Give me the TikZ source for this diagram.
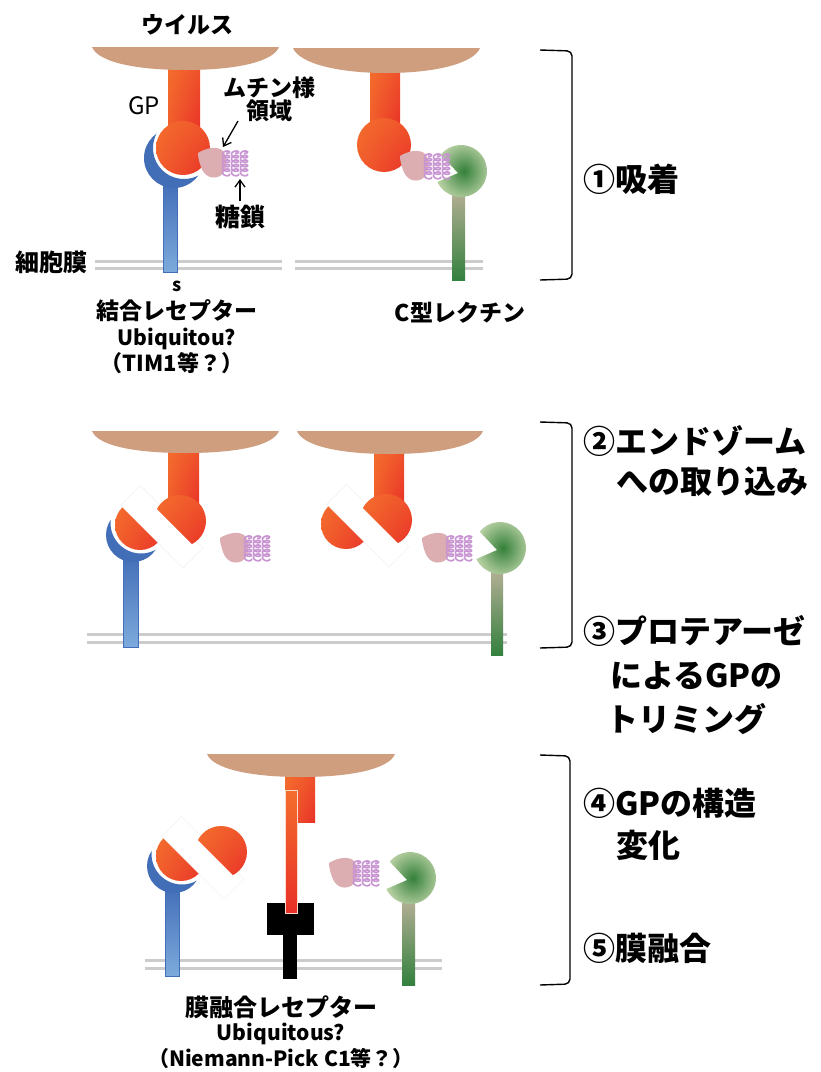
\documentclass[tikz,border=0pt]{standalone}
\usepackage{fontspec}
\setmainfont{Noto Sans CJK JP}
\usetikzlibrary{arrows.meta, shadings}

\definecolor{virus}{RGB}{207,158,126}
\definecolor{gpO}{RGB}{244,110,45}
\definecolor{gpR}{RGB}{232,48,40}
\definecolor{cupblue}{RGB}{66,110,184}
\definecolor{bstemB}{RGB}{125,170,220}
\definecolor{lecD}{RGB}{52,128,58}
\definecolor{lecL}{RGB}{180,206,160}
\definecolor{lstemT}{RGB}{182,176,150}
\definecolor{lstemB}{RGB}{52,128,62}
\definecolor{mucinpink}{RGB}{221,174,177}
\definecolor{glyc}{RGB}{200,148,210}
\definecolor{membgray}{RGB}{204,204,204}

\tikzset{
  gpgrad/.style={upper left=gpO, upper right=gpO!60!gpR, lower left=gpO!75!gpR, lower right=gpR},
  memb/.style={draw=membgray, line width=3pt},
  brk/.style={draw=black, line width=1.4pt, rounded corners=5pt},
  arr/.style={-{Straight Barb[length=7pt,width=10pt]}, line width=1.3pt},
  glycan/.style={draw=glyc, line width=1.6pt},
  lbl/.style={inner sep=0pt, font=\bfseries\fontsize{23}{26}\selectfont},
  latin/.style={inner sep=0pt, font=\bfseries\fontsize{21}{24}\selectfont},
  steplbl/.style={inner sep=0pt, anchor=west, font=\bfseries\fontsize{32}{36}\selectfont},
}

% virus envelope: left, right, top, depth
\newcommand\drawVirus[4]{%
  \fill[virus] (#1,#3) -- (#2,#3)
    .. controls ({#2-6},{#3+15}) and ({(#1+#2)/2+50},{#3+#4}) .. ({(#1+#2)/2},{#3+#4})
    .. controls ({(#1+#2)/2-50},{#3+#4}) and ({#1+6},{#3+15}) .. cycle;}

% mucin-like domain with its looped sugar chains, placed by its top-left corner
\newcommand\drawMucin[2]{%
  \begin{scope}[shift={(#1,#2)}]
    \fill[mucinpink] (0,6) .. controls (8,1) and (18,-1) .. (24,3)
      .. controls (30,8) and (30,24) .. (22,29)
      .. controls (14,33) and (6,29) .. (3,20)
      .. controls (1,14) and (0,10) .. cycle;
    \foreach \gx in {28,37,46}
      \draw[glycan] plot[smooth, samples=60, domain=0:24]
        ({\gx + 3.6*sin(\x*80)}, {4 + \x + 2.2*cos(\x*80)});
  \end{scope}}

% C-type lectin head: centre x, centre y, radius
\newcommand\drawPac[3]{%
  \begin{scope}[shift={(#1,#2)}]
    \shade[inner color=lecD, outer color=lecL] (-3,2) -- (219:#3)
      arc[start angle=219, end angle=515, radius=#3] -- cycle;
  \end{scope}}

% receptor cup: cup centre x,y, radius, cut centre x,y, cut radius
\newcommand\drawCup[6]{%
  \begin{scope}
    \clip (#1,#2) circle (#3);
    \fill[cupblue, even odd rule] ({#1-40},{#2-40}) rectangle ({#1+40},{#2+40}) (#4,#5) circle (#6);
  \end{scope}}

% white band cutting the GP head
\newcommand\drawBand[2]{%
  \begin{scope}[shift={(#1,#2)}]
    \filldraw[fill=white, draw=black!5, line width=0.6pt]
      (-59.5,-15.5) -- (-39.5,-35.5) -- (23,27) -- (3,47) -- cycle;
  \end{scope}}

% the two halves of the trimmed GP head
\newcommand\drawHalves[2]{%
  \begin{scope}[shift={(#1,#2)}]
    \begin{scope}
      \clip (-40,-29) -- (40,51) -- (80,11) -- (0,-69) -- cycle;
      \shade[gpgrad] (0,0) circle (26);
    \end{scope}
    \begin{scope}
      \clip (-80,-36) -- (0,44) -- (-40,84) -- (-120,4) -- cycle;
      \shade[gpgrad] (-40,4) circle (25);
    \end{scope}
  \end{scope}}

\begin{document}
\begin{tikzpicture}[x=1pt,y=-1pt]
\useasboundingbox (0,0) rectangle (821,1072);
\fill[white] (0,0) rectangle (821,1072);

%% ---------------- step 1: attachment ----------------
% membranes
\draw[memb] (95,261) -- (282,261) (95,268) -- (282,268);
\draw[memb] (295,261) -- (483,261) (295,268) -- (483,268);

% left: binding receptor
\shadedraw[top color=cupblue, bottom color=bstemB, draw=cupblue, line width=0.8pt] (163,182) rectangle (177,272);
\drawCup{174}{158}{30}{184}{148}{31}
\shade[gpgrad] (168,62) rectangle (200,132);
\drawVirus{92}{279}{47}{23}
\shade[gpgrad] (183,148) circle (27);
\drawMucin{198}{147}

% right: C-type lectin
\shade[top color=lstemT, bottom color=lstemB] (452,190) rectangle (465,280);
\drawPac{461}{171}{26}
\shade[gpgrad] (370,64) rectangle (400,128);
\drawVirus{293}{480}{48}{25}
\shade[gpgrad] (384,145) circle (27);
\drawMucin{400}{150}

% annotations
\node[lbl] (virusLbl) at (187,25) {ウイルス};
\node[inner sep=0pt, font=\fontsize{24}{27}\selectfont] (gpLbl) at (144,106) {GP};
\node[lbl] (mucinLbl) at (269,88) {ムチン様};
\node[lbl] (mucinLbl2) at (269,111) {領域};
\node[lbl, font=\bfseries\fontsize{25}{28}\selectfont] (sugarLbl) at (240,217) {糖鎖};
\node[lbl, font=\bfseries\fontsize{24}{27}\selectfont] (membLbl) at (52,262) {細胞膜};
\coordinate (mucArrTail) at (238,121);
\coordinate (mucArrHead) at (223,147);
\coordinate (sugArrTail) at (240,201);
\coordinate (sugArrHead) at (240,179);
\draw[arr] (mucArrTail) -- (mucArrHead);
\draw[arr] (sugArrTail) -- (sugArrHead);

\node[inner sep=0pt, font=\bfseries\fontsize{18}{20}\selectfont] (sLbl) at (177,286) {s};
\node[lbl] (bindLbl) at (177,311) {結合レセプター};
\node[latin] (ubiLbl) at (177,339) {Ubiquitou?};
\node[lbl, font=\bfseries\fontsize{22}{25}\selectfont] (timLbl) at (172,363) {（TIM1等？）};
\node[lbl] (lectinLbl) at (460,313) {C型レクチン};

%% ---------------- steps 2-3: uptake and trimming ----------------
\draw[memb] (87,634) -- (507,634) (87,642) -- (507,642);

% left
\shadedraw[top color=cupblue, bottom color=bstemB, draw=cupblue, line width=0.8pt] (123,555) rectangle (138,647);
\drawCup{133}{535}{27}{141}{523}{30.5}
\drawBand{180}{521}
\shade[gpgrad] (168,446) rectangle (199,508);
\drawVirus{92}{279}{431}{22}
\drawHalves{180}{521}
\drawMucin{220}{532}

% right
\shade[top color=lstemT, bottom color=lstemB] (491,568) rectangle (503,655);
\drawPac{500}{548}{26}
\drawBand{386}{520}
\shade[gpgrad] (374,448) rectangle (404,506);
\drawVirus{297}{483}{431}{23}
\drawHalves{386}{520}
\drawMucin{422}{532}

%% ---------------- steps 4-5: conformational change and fusion ----------------
\draw[memb] (145,960) -- (442,960) (145,968) -- (442,968);

\shadedraw[top color=cupblue, bottom color=bstemB, draw=cupblue, line width=0.8pt] (165,886) rectangle (179,976);
\drawCup{174}{866}{27}{182}{854}{30.5}
\drawBand{221}{852}
\drawHalves{221}{852}

% fusion receptor with the extended GP
\fill[black] (267,903) rectangle (314,935);
\fill[black] (283,935) rectangle (297,979);
\shade[gpgrad] (285,770) rectangle (315,822);
\shadedraw[top color=gpO, bottom color=gpR, draw=white!75!gpO, line width=0.8pt] (285,790) rectangle (297,913);
\drawVirus{207}{395}{754}{23}

\shade[top color=lstemT, bottom color=lstemB] (402,898) rectangle (415,985);
\drawPac{410}{878}{26}
\drawMucin{329}{857}

\node[lbl, font=\bfseries\fontsize{24}{27}\selectfont] (fusLbl) at (281,1007) {膜融合レセプター};
\node[latin] (ubiLbl2) at (281,1034) {Ubiquitous?};
\node[latin] (npcLbl) at (281,1058) {（Niemann-Pick C1等？）};

%% ---------------- brackets and step names ----------------
\draw[brk] (540,50) -- (572,51) -- (572,279) -- (540,280);
\draw[brk] (540,422) -- (572,423) -- (572,647) -- (540,648);
\draw[brk] (540,755) -- (570,756) -- (570,984) -- (540,985);

\node[steplbl] (s1) at (583,179) {①吸着};
\node[steplbl] (s2a) at (583,441) {②エンドゾーム};
\node[steplbl] (s2b) at (616,482) {への取り込み};
\node[steplbl] (s3a) at (583,631) {③プロテアーゼ};
\node[steplbl] (s3b) at (610,676) {によるGPの};
\node[steplbl] (s3c) at (606,719) {トリミング};
\node[steplbl] (s4a) at (583,803) {④GPの構造};
\node[steplbl] (s4b) at (616,845) {変化};
\node[steplbl] (s5) at (583,948) {⑤膜融合};

\end{tikzpicture}
\end{document}
